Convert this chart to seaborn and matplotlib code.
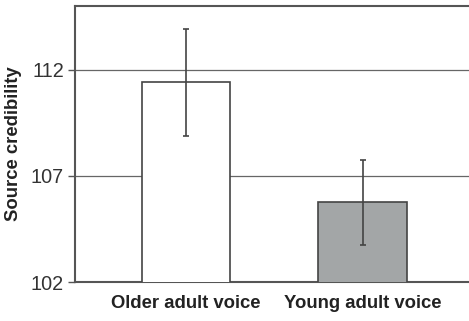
import pandas as pd
import numpy as np
import matplotlib
matplotlib.use("Agg")
import matplotlib.pyplot as plt
import seaborn as sns

groups = ["Older adult voice", "Young adult voice"]
means = [111.4, 105.75]
errors = [2.5, 2.0]
bar_colors = ["#ffffff", "#a2a6a8"]

df = pd.DataFrame({"group": groups, "credibility": means})

sns.set_style("white")
plt.rcParams['font.family'] = ['Liberation Sans', 'DejaVu Sans']

fig = plt.figure(figsize=(4.69, 3.21), dpi=100)
ax = fig.add_axes([75 / 469, 39 / 321, 1 - 75 / 469, 276 / 321])

sns.barplot(data=df, x="group", y="credibility", hue="group", palette=bar_colors,
            width=0.5, errorbar=None, edgecolor="#444444", linewidth=1.2,
            legend=False, ax=ax, zorder=3)
ax.errorbar(range(len(groups)), means, yerr=errors, fmt="none", ecolor="#444444",
            elinewidth=1.2, capsize=2.5, capthick=1.2, zorder=4)

ax.set_ylim(102, 115)
ax.set_xlim(-0.63, 1.603)
ax.set_yticks([102, 107, 112])
for y in [107, 112]:
    ax.axhline(y, color="#666666", linewidth=0.9, zorder=1)

ax.set_xlabel("")
ax.set_ylabel("Source credibility", fontsize=13.3, fontweight="bold", color="#222222", labelpad=6)
ax.tick_params(axis="y", left=True, length=5, width=1, color="#555555",
               labelsize=14.3, labelcolor="#333333", pad=3)
ax.tick_params(axis="x", bottom=False, labelsize=13.3, pad=6)
for lab in ax.get_xticklabels():
    lab.set_fontweight("bold")
    lab.set_color("#222222")

for side in ["left", "top", "bottom"]:
    ax.spines[side].set_color("#555555")
    ax.spines[side].set_linewidth(1.5)
ax.spines["right"].set_visible(False)

fig.savefig("out.png", dpi=100)
